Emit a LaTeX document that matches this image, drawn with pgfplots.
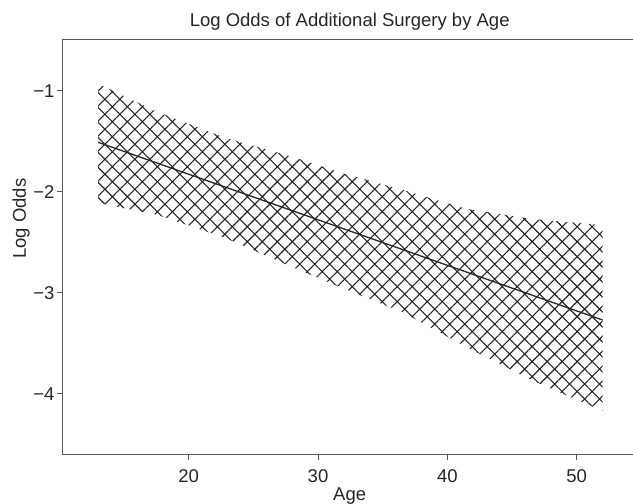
\documentclass[border=0pt]{standalone}
\usepackage{fontspec}
\setmainfont{Liberation Sans}
\usepackage{pgfplots}
\pgfplotsset{compat=1.18}
\usetikzlibrary{patterns.meta}

\begin{document}
\fontsize{9.25}{11}\selectfont
\begin{tikzpicture}
\useasboundingbox (-31.35pt,-24.85pt) rectangle (285.15pt,227.15pt);
\begin{axis}[
  at={(0,0)}, anchor=south west,
  scale only axis, width=287pt, height=207.5pt,
  xmin=10.26, xmax=54.64, ymin=-4.60, ymax=-0.49,
  xtick={20,30,40,50}, xticklabels={20,30,40,50},
  ytick={-4,-3,-2,-1}, yticklabels={−4,−3,−2,−1},
  tick pos=left, tick align=outside, major tick length=2.6pt,
  axis line style={black!65, line width=0.75pt},
  tick style={black!65, line width=0.5pt},
  ticklabel style={font=\fontsize{9.25}{11}\selectfont, text=black!85},
  xticklabel style={anchor=base, inner sep=0pt, yshift=-11.5pt},
  yticklabel style={anchor=east, inner sep=0pt, xshift=-1.35pt},
  title={Log Odds of Additional Surgery by Age},
  title style={at={(axis description cs:0.5,1)}, anchor=base, inner sep=0pt,
               yshift=0.5pt, font=\fontsize{9.25}{11}\selectfont, text=black!85},
  xlabel={Age},
  xlabel style={at={(axis description cs:0.5,0)}, anchor=base, inner sep=0pt,
                yshift=-23pt, font=\fontsize{9.25}{11}\selectfont, text=black!85},
  ylabel={Log Odds},
  ylabel style={at={(axis description cs:-0.064,0.568)}, anchor=base, inner sep=0pt,
                font=\fontsize{9.25}{11}\selectfont, text=black!85},
]

% confidence band: upper edge left to right, lower edge back
\addplot[draw=none, pattern={Hatch[angle=45, distance=5.3pt, line width=0.55pt]},
         pattern color=black!85] coordinates {
  (13,-0.93) (17.6,-1.21) (22.7,-1.46) (27.9,-1.65) (32,-1.82)
  (36.5,-1.98) (41.5,-2.17) (46.6,-2.27) (52,-2.33)
  (52,-4.17) (46.6,-3.87) (41.5,-3.54) (36.5,-3.19) (32,-2.96)
  (27.9,-2.74) (22.7,-2.45) (17.6,-2.23) (13,-2.11)
};

% fitted log odds
\addplot[black!85, line width=0.65pt] coordinates {(13,-1.51) (52,-3.27)};

\end{axis}
\end{tikzpicture}
\end{document}
